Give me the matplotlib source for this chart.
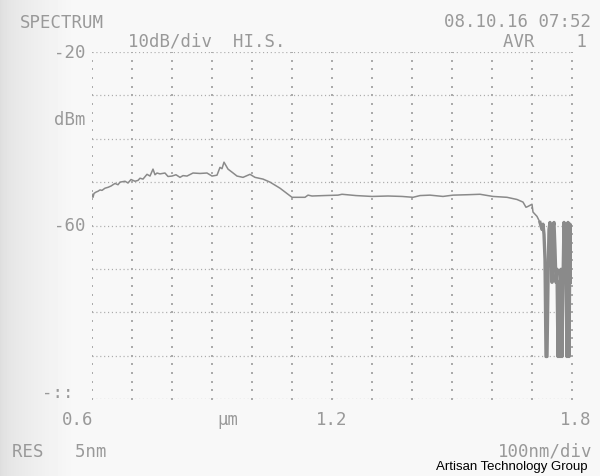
import numpy as np
import matplotlib
matplotlib.use("Agg")
import matplotlib.pyplot as plt

# ---- data ----
wavelength_um = [
    0.600, 0.6025, 0.605, 0.610, 0.615, 0.620, 0.625, 0.6325, 0.640, 0.6475,
    0.6575, 0.665, 0.670, 0.6825, 0.690, 0.6975, 0.7075, 0.715, 0.720, 0.7275,
    0.7375, 0.745, 0.7525, 0.7575, 0.7625, 0.770, 0.7825, 0.790, 0.800, 0.810,
    0.820, 0.8275, 0.8375, 0.8525, 0.870, 0.8875, 0.900, 0.9125, 0.920, 0.925,
    0.930, 0.935, 0.940, 0.950, 0.9625, 0.9775, 0.995, 1.0075, 1.0275, 1.045,
    1.070, 1.100, 1.1325, 1.140, 1.150, 1.180, 1.215, 1.225, 1.260, 1.300,
    1.340, 1.375, 1.4025, 1.420, 1.445, 1.4775, 1.5025, 1.540, 1.570, 1.6025,
    1.6375, 1.6625, 1.6775, 1.685, 1.690, 1.700, 1.7025, 1.7125, 1.720,
    1.725, 1.7275, 1.730, 1.7325, 1.735, 1.7375, 1.740, 1.7425, 1.745, 1.7475,
    1.750, 1.7525, 1.755, 1.7575, 1.760, 1.7625, 1.765, 1.7675, 1.770, 1.7725,
    1.775, 1.7775, 1.780, 1.7825, 1.785, 1.7875, 1.790, 1.7925, 1.795, 1.7975,
    1.800,
]
power_dbm = [
    -52.8, -53.5, -52.6, -52.3, -52.1, -51.8, -51.9, -51.4, -51.2, -50.9,
    -50.3, -50.6, -50.0, -49.8, -50.2, -49.4, -49.8, -49.6, -49.1, -49.3,
    -48.2, -48.6, -47.0, -48.3, -47.9, -48.1, -47.9, -48.7, -48.6, -48.3,
    -48.9, -48.5, -48.6, -47.9, -48.0, -47.9, -48.6, -48.4, -46.6, -46.9,
    -45.4, -46.2, -47.0, -47.7, -48.6, -48.9, -48.2, -48.9, -49.3, -50.0,
    -51.4, -53.5, -53.5, -53.0, -53.2, -53.1, -53.0, -52.8, -53.1, -53.3,
    -53.2, -53.3, -53.5, -53.1, -53.0, -53.3, -53.0, -52.9, -52.8, -53.3,
    -53.5, -54.0, -54.6, -55.8, -55.6, -55.1, -56.9, -57.9, -59.3,
    -60.9, -59.7, -62.0, -67.8, -90.2, -90.2, -73.1, -60.9, -59.3, -63.2,
    -73.1, -60.4, -59.3, -65.5, -73.1, -70.1, -90.2, -73.1, -90.2, -70.1,
    -90.2, -73.1, -59.3, -73.1, -65.5, -90.2, -59.3, -90.2, -59.7, -73.1,
    -60.9,
]
x_ticks = [0.6, 1.2, 1.8]
x_tick_labels = ["0.6", "1.2", "1.8"]
y_ticks = [-20, -60, -100]
y_tick_labels = ["-20", "-60", "-::"]

GREY_TXT = "#999999"
GREY_LINE = "#8a8a8a"
GRID = "#ababab"
MONO = "DejaVu Sans Mono"

fig = plt.figure(figsize=(6.0, 4.77), dpi=100)
fig.patch.set_facecolor("#f6f6f4")

# paper shading (scanned look): light gradient on the left edge
bg = fig.add_axes([0, 0, 1, 1], zorder=-10)
grad = np.linspace(0, 1, 600)
shade = 0.87 + 0.10 * np.clip(grad / 0.12, 0, 1) ** 0.6
img = np.tile(shade, (10, 1))
bg.imshow(img, cmap="gray", vmin=0, vmax=1, aspect="auto", extent=[0, 1, 0, 1])
bg.set_axis_off()

W, H = 600, 477
L, R, T, B = 92, 572, 53, 400
ax = fig.add_axes([L / W, (H - B) / H, (R - L) / W, (B - T) / H])
ax.set_xlim(0.6, 1.8)
ax.set_ylim(-100, -20)
ax.set_facecolor("none")
for s in ax.spines.values():
    s.set_visible(False)
ax.set_xticks([])
ax.set_yticks([])

# grid: dense dotted horizontal lines every 10 dB
for yv in np.arange(-100, -19, 10):
    ax.axhline(yv, color=GRID, lw=0.9, linestyle=(0, (0.9, 2.2)), zorder=1)
# sparse dotted vertical lines every 100 nm (dots every 2 dB)
gx, gy = np.meshgrid(np.arange(0.6, 1.8001, 0.1), np.arange(-100, -19, 2))
ax.scatter(gx.ravel(), gy.ravel(), s=1.2, marker="s", color=GRID, linewidths=0, zorder=1)

# trace
n_tail = 32
ax.plot(wavelength_um, power_dbm, color=GREY_LINE, lw=1.1, zorder=3)
ax.plot(wavelength_um[-n_tail:], power_dbm[-n_tail:], color=GREY_LINE, lw=2.4, zorder=3)

# tick labels
fs = 12.5
ax.text(0.583, -20, y_tick_labels[0], ha="right", va="center", fontsize=fs,
        family=MONO, color=GREY_TXT)
ax.text(0.583, -60, y_tick_labels[1], ha="right", va="center", fontsize=fs,
        family=MONO, color=GREY_TXT)
ax.text(0.553, -98.5, y_tick_labels[2], ha="right", va="center", fontsize=fs,
        family=MONO, color=GREY_TXT)
ax.text(0.583, -35.5, "dBm", ha="right", va="center", fontsize=fs,
        family=MONO, color=GREY_TXT)
xl_pos = [0.565, 1.2, 1.808]
for xv, lab in zip(xl_pos, x_tick_labels):
    ax.text(xv, -104.5, lab, ha="center", va="center", fontsize=fs,
            family=MONO, color=GREY_TXT)
ax.text(0.94, -104.5, "µm", ha="center", va="center", fontsize=fs,
        family=MONO, color=GREY_TXT)

# header / footer texts
def ftxt(x, y, s, ha="left", **kw):
    fig.text(x / W, 1 - y / H, s, ha=ha, va="center", fontsize=fs,
             family=MONO, color=GREY_TXT, **kw)

ftxt(20, 23, "SPECTRUM")
ftxt(591, 22, "08.10.16 07:52", ha="right")
ftxt(128, 41, "10dB/div  HI.S.")
ftxt(587, 42, "AVR    1", ha="right")
ftxt(12, 452, "RES   5nm")
ftxt(592, 452, "100nm/div", ha="right")
fig.text(588 / W, 1 - 467 / H, "Artisan Technology Group", ha="right",
         va="center", fontsize=9.5, color="black",
         family=["Liberation Sans Narrow", "Liberation Sans", "DejaVu Sans"])

fig.savefig("out.png", dpi=100)
